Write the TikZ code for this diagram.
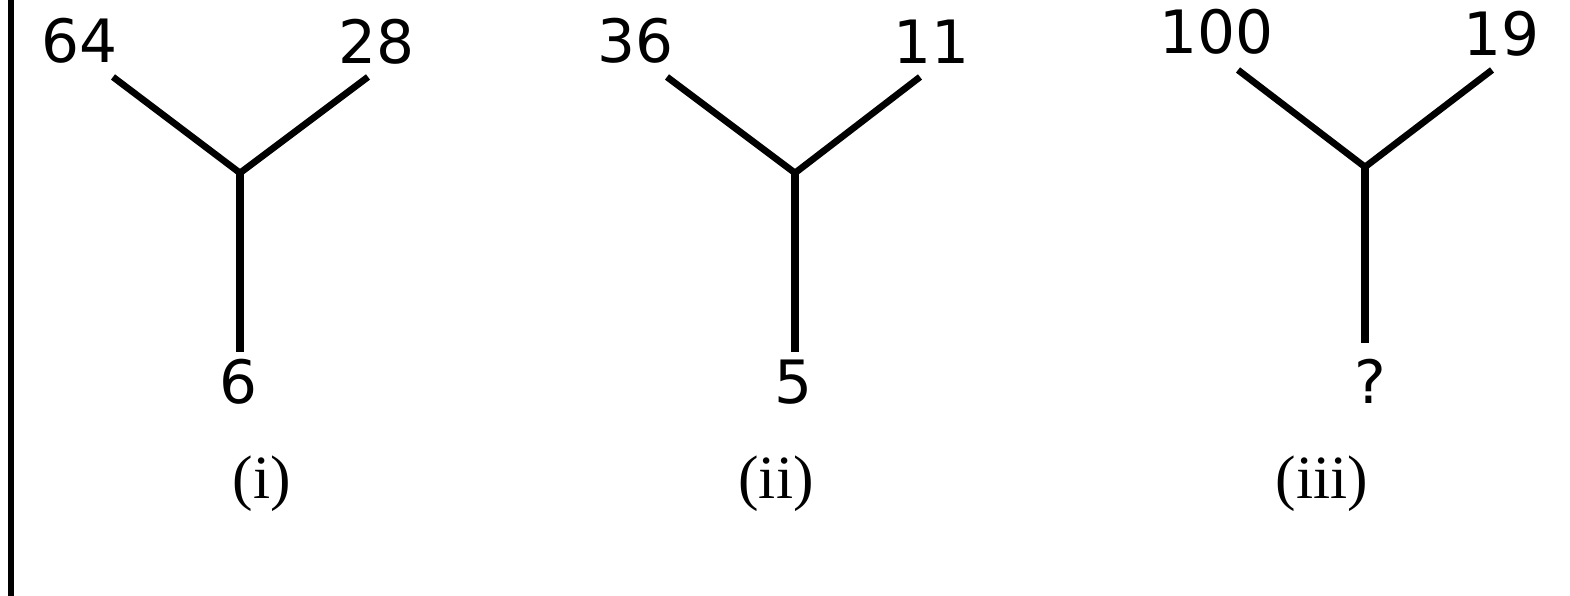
\documentclass[tikz,border=0pt]{standalone}
\usepackage{fontspec}
\newfontfamily\numfont{DejaVu Sans}
\newfontfamily\capfont{Liberation Serif}

\begin{document}
\begin{tikzpicture}[line cap=butt,
  num/.style={font=\numfont\fontsize{17}{20}\selectfont,inner sep=0pt},
  figlabel/.style={font=\capfont\fontsize{17.5}{20}\selectfont,inner sep=0pt},
  arm/.style={line width=1.9pt},
  stem/.style={line width=2.3pt}]
  \useasboundingbox (0,0) rectangle (15.7,5.96);
  \draw[line width=1.5pt] (0.11,0)--(0.11,5.96);
  % (i)
  \coordinate (j1) at (2.40,4.23);
  \coordinate (tl1) at (1.13,5.19);
  \coordinate (tr1) at (3.68,5.19);
  \coordinate (b1) at (2.40,2.44);
  \node[num] (n64) at (0.80,5.55) {64};
  \node[num] (n28) at (3.77,5.54) {28};
  \node[num] (n6) at (2.39,2.14) {6};
  \node[figlabel] (c1) at (2.62,1.12) {(i)};
  \draw[arm] (tl1)--(j1)--(tr1);
  \draw[stem] (j1)--(b1);
  % (ii)
  \coordinate (j2) at (7.95,4.23);
  \coordinate (tl2) at (6.67,5.19);
  \coordinate (tr2) at (9.20,5.19);
  \coordinate (b2) at (7.95,2.44);
  \node[num] (n36) at (6.36,5.55) {36};
  \node[num] (n11) at (9.32,5.54) {11};
  \node[num] (n5) at (7.93,2.14) {5};
  \node[figlabel] (c2) at (7.76,1.12) {(ii)};
  \draw[arm] (tl2)--(j2)--(tr2);
  \draw[stem] (j2)--(b2);
  % (iii)
  \coordinate (j3) at (13.65,4.29);
  \coordinate (tl3) at (12.38,5.26);
  \coordinate (tr3) at (14.92,5.26);
  \coordinate (b3) at (13.65,2.53);
  \node[num] (n100) at (12.17,5.64) {100};
  \node[num] (n19) at (15.01,5.62) {19};
  \node[num] (nq) at (13.70,2.15) {?};
  \node[figlabel] (c3) at (13.22,1.12) {(iii)};
  \draw[arm] (tl3)--(j3)--(tr3);
  \draw[stem] (j3)--(b3);
\end{tikzpicture}
\end{document}
